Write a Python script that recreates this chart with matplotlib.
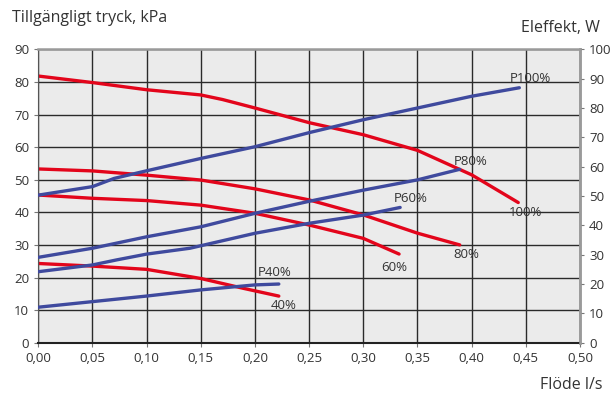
import matplotlib.pyplot as plt

# pressure curves (kPa, left axis)
flow_100 = [0.0, 0.05, 0.10, 0.15, 0.17, 0.20, 0.25, 0.30, 0.35, 0.40, 0.443]
kpa_100 = [81.8, 79.8, 77.6, 76.0, 74.6, 72.0, 67.5, 63.8, 59.0, 51.5, 43.0]
flow_80 = [0.0, 0.05, 0.10, 0.15, 0.20, 0.25, 0.30, 0.35, 0.389]
kpa_80 = [53.3, 52.7, 51.4, 49.9, 47.2, 43.8, 39.2, 33.6, 30.0]
flow_60 = [0.0, 0.05, 0.10, 0.15, 0.20, 0.25, 0.30, 0.333]
kpa_60 = [45.3, 44.3, 43.6, 42.2, 39.7, 36.1, 32.0, 27.2]
flow_40 = [0.0, 0.05, 0.10, 0.15, 0.189, 0.222]
kpa_40 = [24.3, 23.5, 22.5, 19.7, 16.7, 14.3]

# power curves (W, right axis)
pflow_100 = [0.0, 0.05, 0.07, 0.10, 0.15, 0.20, 0.25, 0.30, 0.35, 0.40, 0.444]
watt_100 = [50.3, 53.2, 56.0, 58.6, 62.8, 66.8, 71.6, 76.0, 80.0, 84.0, 86.9]
pflow_80 = [0.0, 0.05, 0.10, 0.15, 0.20, 0.25, 0.30, 0.35, 0.389]
watt_80 = [29.1, 32.2, 36.1, 39.5, 44.1, 48.2, 52.0, 55.5, 59.1]
pflow_60 = [0.0, 0.05, 0.072, 0.10, 0.14, 0.20, 0.25, 0.30, 0.334]
watt_60 = [24.2, 26.5, 28.2, 30.2, 32.2, 37.3, 40.7, 43.5, 46.1]
pflow_40 = [0.0, 0.05, 0.10, 0.15, 0.20, 0.222]
watt_40 = [12.1, 14.0, 15.9, 18.0, 19.7, 20.0]

x_ticks = [0.0, 0.05, 0.10, 0.15, 0.20, 0.25, 0.30, 0.35, 0.40, 0.45, 0.50]
x_labels = ['0,00', '0,05', '0,10', '0,15', '0,20', '0,25', '0,30', '0,35', '0,40', '0,45', '0,50']

RED = '#e3051b'
BLUE = '#3f4a9e'
TXT = '#333333'

plt.rcParams['font.family'] = ['Open Sans', 'DejaVu Sans']

fig = plt.figure(figsize=(6.10, 3.99), dpi=100)
ax = fig.add_axes([0.0628, 0.1411, 0.888, 0.7353])
ax2 = ax.twinx()

ax.set_facecolor('#ebebeb')
ax.set_xlim(0, 0.5)
ax.set_ylim(0, 90)
ax2.set_ylim(0, 100)

ax.set_xticks(x_ticks)
ax.set_xticklabels(x_labels)
ax.set_yticks(range(0, 91, 10))
ax2.set_yticks(range(0, 101, 10))
ax.grid(True, color='#2a2a2a', lw=1.0)
ax.set_axisbelow(True)

for sp in ['top', 'right']:
    ax.spines[sp].set_color('#9a9a9a')
    ax.spines[sp].set_linewidth(1.8)
ax.spines['left'].set_color('#555555')
ax.spines['bottom'].set_color('#222222')
ax.spines['bottom'].set_linewidth(1.5)
for sp in ax2.spines.values():
    sp.set_visible(False)
ax2.spines['right'].set_visible(True)
ax2.spines['right'].set_color('#9a9a9a')
ax2.spines['right'].set_linewidth(1.8)

ax.tick_params(axis='both', colors='#777777', labelcolor=TXT, labelsize=9.5, length=3)
ax2.tick_params(axis='y', colors='#777777', labelcolor=TXT, labelsize=9.5, length=3)

lw = 2.4
ax.plot(flow_100, kpa_100, color=RED, lw=lw, solid_capstyle='round')
ax.plot(flow_80, kpa_80, color=RED, lw=lw, solid_capstyle='round')
ax.plot(flow_60, kpa_60, color=RED, lw=lw, solid_capstyle='round')
ax.plot(flow_40, kpa_40, color=RED, lw=lw, solid_capstyle='round')

ax2.plot(pflow_100, watt_100, color=BLUE, lw=lw, solid_capstyle='round')
ax2.plot(pflow_80, watt_80, color=BLUE, lw=lw, solid_capstyle='round')
ax2.plot(pflow_60, watt_60, color=BLUE, lw=lw, solid_capstyle='round')
ax2.plot(pflow_40, watt_40, color=BLUE, lw=lw, solid_capstyle='round')

fs = 9.5
ax.text(0.4545, 80.9, 'P100%', color=TXT, fontsize=fs, ha='center', va='center')
ax.text(0.399, 55.7, 'P80%', color=TXT, fontsize=fs, ha='center', va='center')
ax.text(0.344, 44.1, 'P60%', color=TXT, fontsize=fs, ha='center', va='center')
ax.text(0.218, 21.4, 'P40%', color=TXT, fontsize=fs, ha='center', va='center')
ax.text(0.45, 39.8, '100%', color=TXT, fontsize=fs, ha='center', va='center')
ax.text(0.395, 27.2, '80%', color=TXT, fontsize=fs, ha='center', va='center')
ax.text(0.329, 23.1, '60%', color=TXT, fontsize=fs, ha='center', va='center')
ax.text(0.226, 11.3, '40%', color=TXT, fontsize=fs, ha='center', va='center')

fig.text(12 / 610, 1 - 18 / 399, 'Tillgängligt tryck, kPa', color=TXT, fontsize=11.5, ha='left', va='center')
fig.text(600 / 610, 1 - 28 / 399, 'Eleffekt, W', color=TXT, fontsize=11.5, ha='right', va='center')
fig.text(603 / 610, 1 - 385 / 399, 'Flöde l/s', color=TXT, fontsize=11.5, ha='right', va='center')

fig.savefig('out.png', dpi=100)
